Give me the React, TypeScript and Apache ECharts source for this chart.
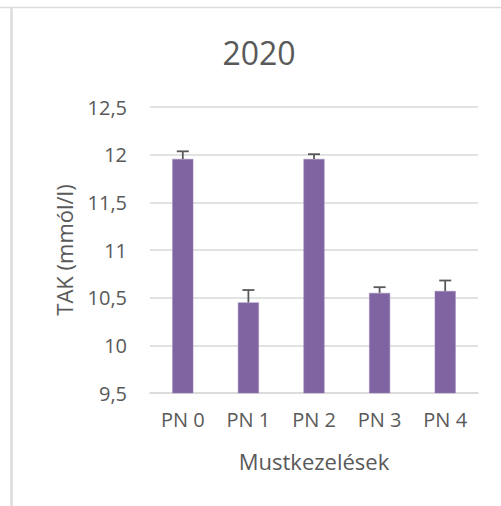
import React, { useEffect, useRef } from "react";
import * as echarts from "echarts";

const categories = ["PN 0", "PN 1", "PN 2", "PN 3", "PN 4"];
const values = [11.955, 10.45, 11.955, 10.55, 10.57];
const errors = [0.08, 0.13, 0.05, 0.06, 0.11];
const titleText = "2020";
const xName = "Mustkezelések";
const yName = "TAK (mmól/l)";

const FONT = "Open Sans";
const TXT = "#595959";

export default function App() {
  const ref = useRef<HTMLDivElement>(null);
  useEffect(() => {
    if (!ref.current) return;
    const chart = echarts.init(ref.current, undefined, { renderer: "svg" });
    chart.setOption({
      animation: false,
      backgroundColor: "#ffffff",
      textStyle: { fontFamily: FONT },
      graphic: [
        { type: "line", shape: { x1: 0, y1: 7.5, x2: 501, y2: 7.5 }, style: { stroke: "#dcdcdc", lineWidth: 1.5 } },
        { type: "line", shape: { x1: 11.5, y1: 8, x2: 11.5, y2: 506 }, style: { stroke: "#dcdcdc", lineWidth: 2.5 } },
        {
          type: "text",
          x: 259,
          y: 52,
          style: {
            text: titleText,
            fontFamily: FONT,
            fontSize: 32,
            fill: TXT,
            textAlign: "center",
            textVerticalAlign: "middle",
          },
        },
      ],
      grid: { left: 150, right: 23, top: 107, bottom: 113 },
      xAxis: {
        type: "category",
        data: categories,
        name: xName,
        nameLocation: "middle",
        nameGap: 57,
        nameTextStyle: { fontSize: 22, color: TXT, fontFamily: FONT },
        axisLine: { show: true, lineStyle: { color: "#d9d9d9", width: 1.5 } },
        axisTick: { show: false },
        axisLabel: { fontSize: 20, color: TXT, fontFamily: FONT, margin: 16 },
      },
      yAxis: {
        type: "value",
        min: 9.5,
        max: 12.5,
        interval: 0.5,
        name: yName,
        nameLocation: "middle",
        nameGap: 75,
        nameTextStyle: { fontSize: 22, color: TXT, fontFamily: FONT },
        axisLine: { show: false },
        axisTick: { show: false },
        splitLine: { lineStyle: { color: "#d9d9d9", width: 1.5 } },
        axisLabel: {
          fontSize: 20,
          color: TXT,
          fontFamily: FONT,
          margin: 23,
          formatter: (v: number) => String(v).replace(".", ","),
        },
      },
      series: [
        {
          type: "bar",
          data: values,
          barWidth: "32%",
          itemStyle: { color: "#8064A2", borderColor: "#9a82b8", borderWidth: 0.5 },
          z: 2,
        },
        {
          type: "custom",
          data: values.map((v, i) => [i, v, errors[i]]),
          z: 3,
          renderItem: (params: any, api: any) => {
            const i = api.value(0);
            const v = api.value(1);
            const e = api.value(2);
            const p0 = api.coord([i, v]);
            const p1 = api.coord([i, v + e]);
            const style = { stroke: "#595959", lineWidth: 1.8 };
            return {
              type: "group",
              children: [
                { type: "line", shape: { x1: p0[0], y1: p0[1], x2: p1[0], y2: p1[1] }, style },
                { type: "line", shape: { x1: p1[0] - 6, y1: p1[1], x2: p1[0] + 6, y2: p1[1] }, style },
              ],
            };
          },
        },
      ],
    });
    return () => chart.dispose();
  }, []);
  return (
    <div
      ref={ref}
      style={{ position: "fixed", left: 0, top: 0, width: 501, height: 506 }}
    />
  );
}
